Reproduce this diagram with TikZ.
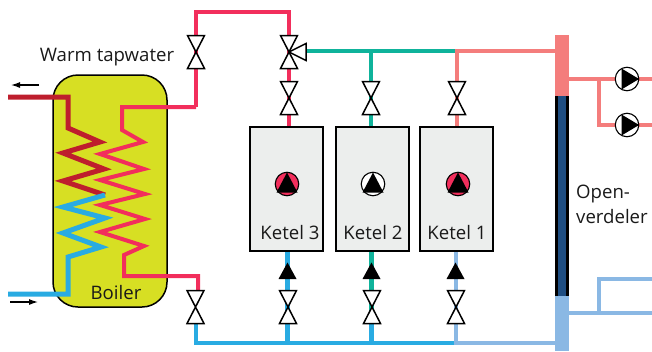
\documentclass[tikz,border=0pt]{standalone}
\usepackage{fontspec}
\usetikzlibrary{arrows.meta}
\setmainfont{Open Sans}
\definecolor{hotpink}{HTML}{F22E5C}
\definecolor{darkred}{HTML}{BE1E2D}
\definecolor{coldblue}{HTML}{29ABE2}
\definecolor{paleblue}{HTML}{8AB8E4}
\definecolor{salmon}{HTML}{F47D7C}
\definecolor{mixgreen}{HTML}{0FB39B}
\definecolor{boilerfill}{HTML}{D7DF23}
\definecolor{ketelfill}{HTML}{ECEEED}
\definecolor{navy}{HTML}{1F4E82}
\tikzset{
  pipe/.style={line width=4.5pt,line join=miter},
  coil/.style={line width=4pt,line join=miter},
  lbl/.style={font=\fontsize{18.6}{20}\selectfont,text=black!90,inner sep=0pt},
  ketel/.style={draw=black,fill=ketelfill,line width=1.6pt,minimum width=73pt,minimum height=124pt,inner sep=0pt},
  pumpring/.style={circle,draw=black,line width=1.1pt,minimum size=23.5pt,inner sep=0pt},
  valvepic/.pic={
    \draw[fill=white,line width=1.5pt,line join=miter] (-8.5,-16.5)--(8.5,-16.5)--(-8.5,16.5)--(8.5,16.5)--cycle;
  },
  pumpup/.pic={\fill (0,-11.5)--(10.5,8.5)--(-10.5,8.5)--cycle;},
  pumpright/.pic={\fill (12,0)--(-5.5,-10.5)--(-5.5,10.5)--cycle;},
  checkpic/.pic={\fill (0,-8.5)--(9,8)--(-9,8)--cycle;}
}
\begin{document}
\begin{tikzpicture}[x=1pt,y=-1pt]
\path[use as bounding box] (0,0) rectangle (652,351);
% boiler
\draw[fill=boilerfill,line width=1.5pt,rounded corners=25pt] (53,75) rectangle (167,307);
\node[lbl] (boiler) at (116,293) {Boiler};
\node[lbl] (tapwater) at (107,57) {Warm tapwater};
% named junctions
\coordinate (topleft) at (196,12);
\coordinate (topmid) at (289,12);
\coordinate (threeway) at (289,52);
\coordinate (sidevalve) at (306,51);
\coordinate (greentee) at (371,51);
\coordinate (greenend) at (457,51);
\coordinate (distin) at (555,51);
\coordinate (botleft) at (196,343);
\coordinate (botthree) at (287.5,343);
\coordinate (bottwo) at (371.5,343);
\coordinate (botone) at (456,343);
\coordinate (distout) at (555,343);
% coils
\draw[coil,line width=5pt,darkred] (8,97)--(68,97)--(68,128)--(100,142)--(63,153)--(104,169)--(63,181)--(105,195);
\draw[coil,line width=5pt,coldblue] (105,195)--(63,207)--(105,218)--(63,233)--(101,247)--(68,257)--(68,294)--(8,294);
\draw[coil,hotpink] (196,107)--(122,107)--(122,130)--(143,142)--(100,154)--(144,169)--(100,180)--(145,194)--(100,205)--(145,219)--(100,232)--(144,246)--(124,255)--(124,276)--(198,276)--(198,290);
% pipes
\draw[pipe,hotpink] (196,107)--(topleft)--(topmid)--(threeway)--(289,127);
\draw[pipe,mixgreen] (sidevalve)--(greenend);
\draw[pipe,mixgreen] (greentee)--(371,127);
\draw[pipe,salmon] (greenend)--(distin);
\draw[pipe,salmon] (457,49)--(457,127);
\draw[pipe,coldblue] (196,323)--(botleft)--(botone);
\draw[pipe,coldblue] (botthree)--(287.5,251);
\draw[pipe,coldblue] (bottwo)--(371.5,323);
\draw[pipe,mixgreen] (371.5,323)--(371.5,251);
\draw[pipe,paleblue] (456,251)--(botone)--(distout);
\draw[pipe,salmon] (569,79)--(652,79);
\draw[pipe,salmon] (599,79)--(599,125)--(652,125);
\draw[pipe,paleblue] (569,313)--(652,313);
\draw[pipe,paleblue] (599,313)--(599,279)--(652,279);
% open distributor
\fill[black] (555,96) rectangle (569,296);
\fill[navy] (558,96) rectangle (566,296);
\fill[salmon] (555,35) rectangle (569,96);
\fill[paleblue] (555,296) rectangle (569,351);
% kettles
\node[ketel] (ketel3) at (286.5,189) {};
\node[ketel,line width=2.2pt] (ketel2) at (372.5,189) {};
\node[ketel] (ketel1) at (456.5,189) {};
\node[lbl] (label3) at (290,233) {Ketel 3};
\node[lbl] (label2) at (373,233) {Ketel 2};
\node[lbl] (label1) at (457,233) {Ketel 1};
% pumps
\node[pumpring,fill=hotpink] (pump3) at (287,184) {};
\node[pumpring,fill=white] (pump2) at (373,184) {};
\node[pumpring,fill=hotpink] (pump1) at (458,184) {};
\foreach \p in {pump3,pump2,pump1}
  \pic at (\p) {pumpup};
\node[pumpring,fill=white] (pumpa) at (627,79) {};
\node[pumpring,fill=white] (pumpb) at (627,125) {};
\foreach \p in {pumpa,pumpb}
  \pic at (\p) {pumpright};
% valves
\foreach \x/\y in {196/52,289/52,289/98,371/98,457/98,195.5/307,288/307,372/307,456/307}
  \pic at (\x,\y) {valvepic};
\draw[fill=white,line width=1.5pt,line join=miter] (threeway)--(306,43.5)--(306,60.5)--cycle;
% check valves
\foreach \x in {287.5,371.5,455.5}
  \pic at (\x,271) {checkpic};
% flow arrows
\coordinate (arrowaa) at (39,85);
\coordinate (arrowab) at (11,85);
\coordinate (arrowba) at (10,302);
\coordinate (arrowbb) at (38,302);
\draw[line width=1.2pt,-{Latex[length=9pt,width=6pt]}] (arrowaa)--(arrowab);
\draw[line width=1.2pt,-{Latex[length=9pt,width=6pt]}] (arrowba)--(arrowbb);
\node[lbl,anchor=base west] (open) at (576,198) {Open-};
\node[lbl,anchor=base west] (verdeler) at (576,223) {verdeler};
\end{tikzpicture}
\end{document}
